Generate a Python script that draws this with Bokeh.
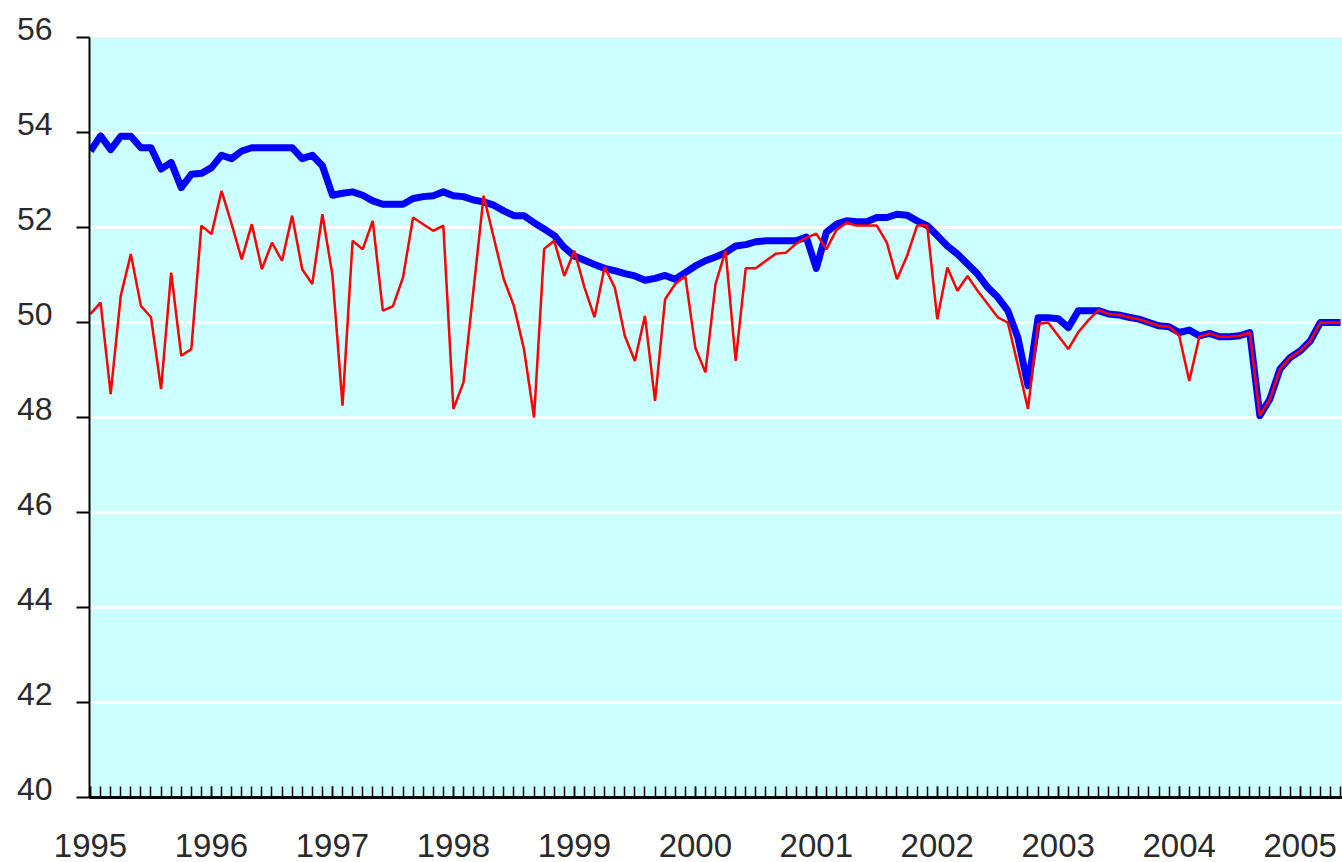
from bokeh.plotting import figure
from bokeh.models import FixedTicker, Range1d
from bokeh.embed import file_html
from bokeh.resources import INLINE

# Year tick labels (one tick at each January)
years = ["1995", "1996", "1997", "1998", "1999", "2000",
         "2001", "2002", "2003", "2004", "2005"]
y_ticks = [40, 42, 44, 46, 48, 50, 52, 54, 56]

# Monthly index: 0 = Jan 1995
blue_values = [
    53.61, 53.93, 53.64, 53.92, 53.92, 53.68, 53.68, 53.23, 53.37, 52.84, 53.12, 53.14,
    53.26, 53.52, 53.45, 53.61, 53.68, 53.68, 53.68, 53.68, 53.68, 53.45, 53.52, 53.30,
    52.68, 52.72, 52.75, 52.68, 52.56, 52.49, 52.49, 52.49, 52.61, 52.65, 52.67, 52.75,
    52.67, 52.65, 52.58, 52.54, 52.47, 52.35, 52.25, 52.25, 52.10, 51.97, 51.83, 51.58,
    51.40, 51.31, 51.22, 51.14, 51.09, 51.03, 50.98, 50.89, 50.93, 50.99, 50.91, 51.05,
    51.19, 51.30, 51.38, 51.47, 51.61, 51.64, 51.70, 51.72, 51.72, 51.72, 51.72, 51.80,
    51.14, 51.90, 52.07, 52.14, 52.12, 52.12, 52.21, 52.21, 52.28, 52.26, 52.14, 52.04,
    51.83, 51.61, 51.44, 51.23, 51.02, 50.74, 50.53, 50.25, 49.68, 48.67, 50.10, 50.10,
    50.08, 49.89, 50.25, 50.25, 50.25, 50.18, 50.16, 50.11, 50.07, 50.00, 49.93, 49.91,
    49.79, 49.84, 49.72, 49.77, 49.70, 49.70, 49.72, 49.79, 48.04, 48.39, 49.02, 49.26,
    49.40, 49.61, 50.00, 50.00, 50.00,
]

red_values = [
    50.18, 50.42, 48.49, 50.56, 51.44, 50.35, 50.11, 48.60, 51.05, 49.30, 49.44, 52.04,
    51.86, 52.77, 52.07, 51.33, 52.07, 51.12, 51.68, 51.30, 52.25, 51.12, 50.81, 52.28,
    51.00, 48.25, 51.72, 51.54, 52.14, 50.25, 50.34, 50.95, 52.21, 52.07, 51.93, 52.04,
    48.18, 48.74, 50.70, 52.67, 51.79, 50.91, 50.35, 49.44, 48.00, 51.55, 51.72, 50.98,
    51.51, 50.74, 50.11, 51.17, 50.74, 49.72, 49.19, 50.14, 48.35, 50.49, 50.81, 50.98,
    49.47, 48.95, 50.81, 51.51, 49.19, 51.14, 51.14, 51.30, 51.45, 51.47, 51.66, 51.78,
    51.87, 51.54, 51.95, 52.10, 52.04, 52.04, 52.04, 51.68, 50.91, 51.40, 52.04, 52.04,
    50.07, 51.16, 50.67, 50.98, 50.67, 50.39, 50.11, 50.00, 49.10, 48.18, 49.97, 50.00,
    49.72, 49.44, 49.80, 50.05, 50.26, 50.18, 50.16, 50.11, 50.07, 50.00, 49.93, 49.91,
    49.72, 48.77, 49.70, 49.77, 49.70, 49.70, 49.72, 49.79, 48.04, 48.39, 49.02, 49.26,
    49.40, 49.61, 50.00, 50.00, 50.00,
]

months = list(range(len(blue_values)))
year_ticks = [12 * i for i in range(len(years))]

p = figure(width=1342, height=862, output_backend="svg", toolbar_location=None,
           x_range=Range1d(-0.1, 124.2), y_range=Range1d(40, 56),
           min_border_left=89, min_border_right=0, min_border_top=37,
           min_border_bottom=65)

p.background_fill_color = "#CCFFFF"
p.border_fill_color = "white"
p.outline_line_color = None

# Grid
p.xgrid.grid_line_color = None
p.ygrid.grid_line_color = "white"
p.ygrid.grid_line_width = 3
p.ygrid.ticker = FixedTicker(ticks=y_ticks)

# Lines
p.line(months, blue_values, line_color="#0000FF", line_width=7, line_join="round")
p.line(months, red_values, line_color="#FF0000", line_width=2.5)

# Y axis
p.yaxis.ticker = FixedTicker(ticks=y_ticks)
p.yaxis.axis_line_color = "black"
p.yaxis.axis_line_width = 2
p.yaxis.major_tick_out = 13
p.yaxis.major_tick_in = 0
p.yaxis.major_tick_line_color = "black"
p.yaxis.major_tick_line_width = 2
p.yaxis.minor_tick_line_color = None
p.yaxis.major_label_standoff = 24
p.yaxis.major_label_text_font = "Liberation Sans"
p.yaxis.major_label_text_font_size = "32px"
p.yaxis.major_label_text_color = "#2a2a2a"
# a trailing empty line lifts each label slightly above its tick, as in the original
p.yaxis.major_label_overrides = {v: f"{v}\n" for v in y_ticks}
p.yaxis.major_label_text_line_height = 0.5

# X axis
p.xaxis.ticker = FixedTicker(ticks=year_ticks, minor_ticks=months)
p.xaxis.major_label_overrides = {t: y for t, y in zip(year_ticks, years)}
p.xaxis.axis_line_color = "black"
p.xaxis.axis_line_width = 3
p.xaxis.major_tick_out = 0
p.xaxis.major_tick_in = 11
p.xaxis.major_tick_line_color = "black"
p.xaxis.major_tick_line_width = 1.5
p.xaxis.minor_tick_out = 0
p.xaxis.minor_tick_in = 11
p.xaxis.minor_tick_line_color = "black"
p.xaxis.minor_tick_line_width = 1.5
p.xaxis.major_label_standoff = 36
p.xaxis.major_label_text_font = "Liberation Sans"
p.xaxis.major_label_text_font_size = "33px"
p.xaxis.major_label_text_color = "#2a2a2a"
p.xaxis.major_label_text_line_height = 0.8

open("out.html", "w").write(file_html(p, INLINE))
